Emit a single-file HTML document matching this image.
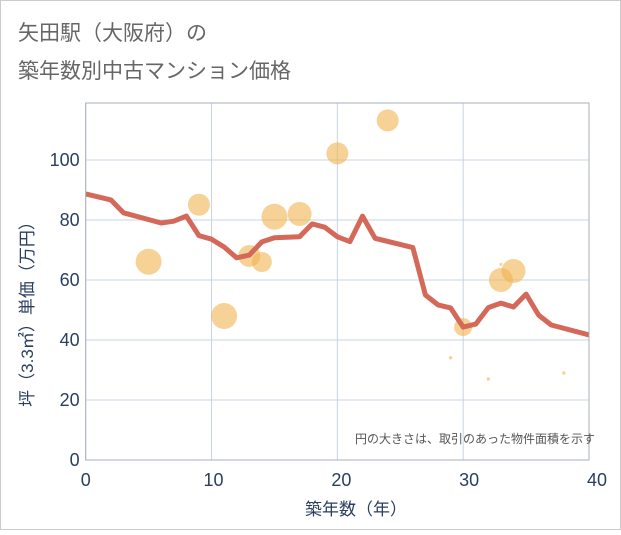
<!DOCTYPE html>
<html><head><meta charset="utf-8"><style>
body{margin:0;background:#fff;}
svg text{font-family:"Liberation Sans","Noto Sans CJK JP",sans-serif;}
</style></head><body>
<svg id="chart" width="621" height="530" xmlns="http://www.w3.org/2000/svg">
<rect x="0.5" y="0.5" width="620" height="529" fill="#fff" stroke="#ccc"/>
<text x="18" y="40" font-size="21" fill="#666">矢田駅（大阪府）の</text>
<text x="18" y="78" font-size="21" fill="#666">築年数別中古マンション価格</text>
<g id="grid"></g>
<g id="bubbles"></g>
<g id="line"></g>
<g id="axes"></g>
<text x="595" y="443" font-size="12" fill="#555" text-anchor="end">円の大きさは、取引のあった物件面積を示す</text>
<text x="356" y="515" font-size="17" fill="#2a3f5f" text-anchor="middle">築年数（年）</text>
<text transform="translate(33,310) rotate(-90)" font-size="17" fill="#2a3f5f" text-anchor="middle">坪（3.3㎡）単価（万円）</text>
</svg>
<script>
const lineYears=[0,2,3,6,7,8,9,10,11,12,13,14,15,17,18,19,20,21,22,23,26,27,28,29,30,31,32,33,34,35,36,37,40];
const lineValues=[88.7,86.7,82.4,79,79.6,81.3,74.8,73.6,71,67.4,68.3,72.7,74.1,74.4,78.7,77.6,74.4,72.8,81.3,73.9,70.8,55,51.7,50.7,44.3,45.3,50.8,52.3,51,55.3,48.3,45,41.7];
const bubbleYears=[5,9,11,13,14,15,17,20,24,30,33,34,33,29,32,38];
const bubbleValues=[66.1,85.1,48,68,66,81.1,82,102.2,113.2,44.3,60,63,65.2,34.1,27,29];
const bubbleRadii=[13,11,13,11,10,13,12,11,11,9,12,12,1.5,1.7,1.7,1.7];
const xTicks=[0,10,20,30,40];
const yTicks=[0,20,40,60,80,100];
const NS="http://www.w3.org/2000/svg";
const L=85.7,R=589,T=103,B=460;
const xs=v=>L+(R-L)*v/40;
const ys=v=>B-3*v;
function mk(tag,attrs,parent){const e=document.createElementNS(NS,tag);for(const k in attrs)e.setAttribute(k,attrs[k]);document.getElementById(parent).appendChild(e);return e;}
xTicks.forEach(t=>{
 const g=mk('line',{x1:xs(t),x2:xs(t),y1:T,y2:B,stroke:'#c8d4e3','stroke-width':1},'grid');
 
 
 const tx=mk('text',{x:xs(t)+t*0.2,y:B+26,'font-size':18,fill:'#2a3f5f','text-anchor':'middle'},'axes');
 tx.textContent=t;
 
 
});
yTicks.forEach(t=>{
 const g=mk('line',{x1:L,x2:R,y1:ys(t),y2:ys(t),stroke:'#c8d4e3','stroke-width':1},'grid');
 
 
 const tx=mk('text',{x:L-6,y:ys(t)+6,'font-size':18,fill:'#2a3f5f','text-anchor':'end'},'axes');
 tx.textContent=t;
 
 
});
const fr=mk('rect',{x:L,y:T,width:R-L,height:B-T,fill:'none',stroke:'#a8b0ba','stroke-width':1},'axes');


bubbleYears.forEach((y,i)=>{
 const c=mk('circle',{cx:xs(y),cy:ys(bubbleValues[i]),r:bubbleRadii[i],fill:'#f0b450','fill-opacity':0.6},'bubbles');
 
 
});
const p=mk('polyline',{points:lineYears.map((y,i)=>xs(y)+','+ys(lineValues[i])).join(' '),fill:'none',stroke:'#d4695a','stroke-width':5,'stroke-linejoin':'round'},'line');


</script>
</body></html>
